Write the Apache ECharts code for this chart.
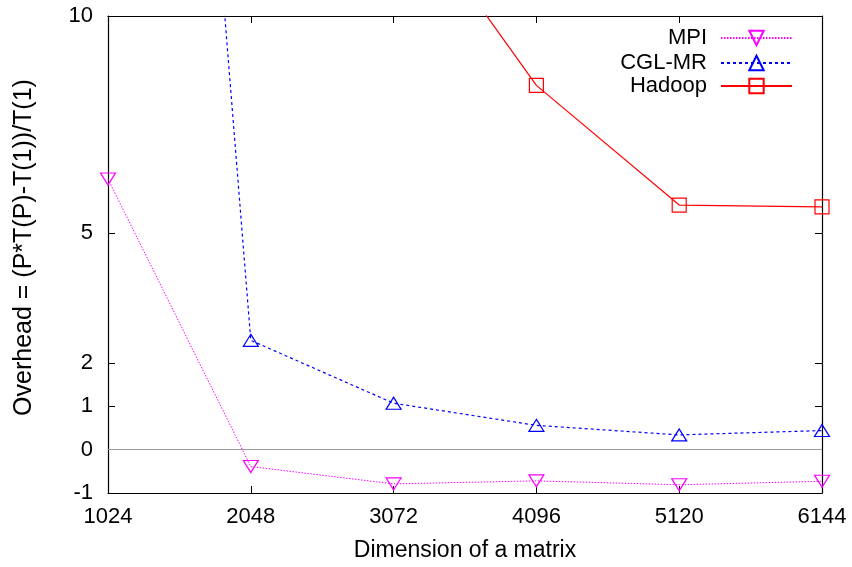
<!DOCTYPE html>
<html><head><meta charset="utf-8">
<script src="https://cdn.jsdelivr.net/npm/echarts@6/dist/echarts.min.js"></script>
<style>html,body{margin:0;padding:0;background:#fff}#c{width:852px;height:567px}</style>
</head><body><div id="c"></div>
<script>
const xTicks = [1024, 2048, 3072, 4096, 5120, 6144];
const yTicks = [-1, 0, 1, 2, 5, 10];
const mpiX = [1024, 2048, 3072, 4096, 5120, 6144];
const mpiY = [6.24, -0.39, -0.79, -0.72, -0.81, -0.73];
const cglX = [1024, 2048, 3072, 4096, 5120, 6144];
const cglY = [43.6, 2.52, 1.07, 0.56, 0.34, 0.44];
const hadoopX = [3072, 4096, 5120, 6144];
const hadoopY = [13.0, 8.40, 5.64, 5.60];

const pairs = (xs, ys) => xs.map((x, i) => [x, ys[i]]);
const FONT = 'Liberation Sans';
const FS = 22;
const chart = echarts.init(document.getElementById('c'));
const axisLine = {show: true, onZero: false, lineStyle: {color: '#000', width: 1.2}};
const legendBase = {
  orient: 'vertical', right: 54, align: 'right', itemWidth: 71, itemHeight: 18,
  textStyle: {fontFamily: FONT, fontSize: FS, color: '#000', padding: [0, 9, 0, 0]},
  selectedMode: false
};
chart.setOption({
  animation: false,
  textStyle: {fontFamily: FONT},
  grid: {left: 108, right: 30, top: 16, bottom: 72},
  legend: [
    Object.assign({}, legendBase, {top: 22, data: ['MPI']}),
    Object.assign({}, legendBase, {top: 47, data: ['CGL-MR']}),
    Object.assign({}, legendBase, {top: 70, data: ['Hadoop']})
  ],
  xAxis: [{
    type: 'value', min: 1024, max: 6144, interval: 1024, position: 'bottom',
    name: 'Dimension of a matrix', nameLocation: 'middle', nameGap: 46,
    nameTextStyle: {fontFamily: FONT, fontSize: 23, color: '#000'},
    axisLine: axisLine,
    axisTick: {show: true, inside: true, length: 7, customValues: xTicks, lineStyle: {color: '#000'}},
    axisLabel: {fontFamily: FONT, fontSize: FS, color: '#000', margin: 13, customValues: xTicks,
      formatter: v => String(v)},
    splitLine: {show: false}
  }, {
    type: 'value', min: 1024, max: 6144, interval: 1024, position: 'top',
    axisLine: axisLine,
    axisTick: {show: true, inside: true, length: 7, customValues: xTicks, lineStyle: {color: '#000'}},
    axisLabel: {show: false, customValues: xTicks}, splitLine: {show: false}
  }],
  yAxis: [{
    type: 'value', min: -1, max: 10, interval: 1, position: 'left',
    name: 'Overhead = (P*T(P)-T(1))/T(1)', nameLocation: 'middle', nameGap: 71,
    nameTextStyle: {fontFamily: FONT, fontSize: 25, color: '#000', padding: [0, 0, 0, 14]},
    axisLine: axisLine,
    axisTick: {show: true, inside: true, length: 7, customValues: yTicks, lineStyle: {color: '#000'}},
    axisLabel: {fontFamily: FONT, fontSize: FS, color: '#000', margin: 15, customValues: yTicks},
    splitLine: {show: false}
  }, {
    type: 'value', min: -1, max: 10, interval: 1, position: 'right',
    axisLine: axisLine,
    axisTick: {show: true, inside: true, length: 7, customValues: yTicks, lineStyle: {color: '#000'}},
    axisLabel: {show: false, customValues: yTicks}, splitLine: {show: false}
  }],
  series: [{
    name: 'MPI', type: 'line', data: pairs(mpiX, mpiY),
    symbol: 'triangle', symbolRotate: 180, symbolSize: [15, 12], showAllSymbol: true,
    itemStyle: {color: 'rgba(255,255,255,0)', borderColor: '#ff00ff', borderWidth: 1.2},
    lineStyle: {color: '#ff00ff', width: 1, type: [1.5, 1.5]},
    markLine: {
      silent: true, symbol: 'none', label: {show: false},
      lineStyle: {color: '#999', width: 1, type: 'solid'},
      data: [{yAxis: 0}]
    },
    z: 3
  }, {
    name: 'CGL-MR', type: 'line', data: pairs(cglX, cglY),
    symbol: 'triangle', symbolSize: [15, 12], showAllSymbol: true,
    itemStyle: {color: 'rgba(255,255,255,0)', borderColor: '#0000ff', borderWidth: 1.2},
    lineStyle: {color: '#0000ff', width: 1.2, type: [3, 3]},
    z: 3
  }, {
    name: 'Hadoop', type: 'line', data: pairs(hadoopX, hadoopY),
    symbol: 'rect', symbolSize: 14, showAllSymbol: true,
    itemStyle: {color: 'rgba(255,255,255,0)', borderColor: '#ff0000', borderWidth: 1.2},
    lineStyle: {color: '#ff0000', width: 1.2, type: 'solid'},
    z: 3
  }]
});
</script></body></html>
